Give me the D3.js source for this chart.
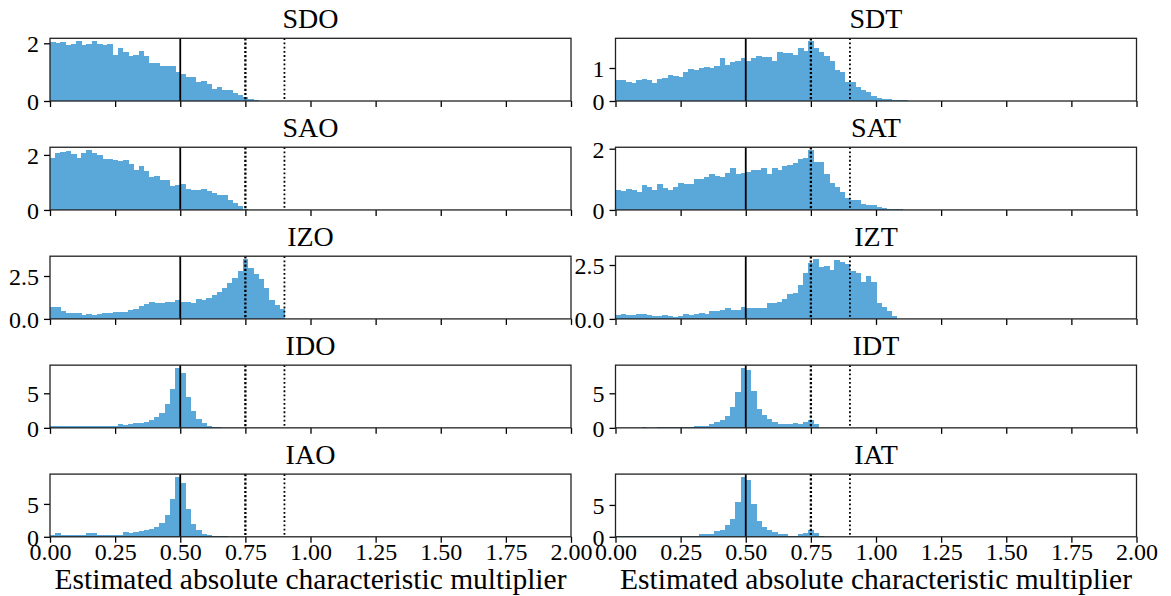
<!DOCTYPE html>
<html>
<head>
<meta charset="utf-8">
<script src="https://cdn.jsdelivr.net/npm/d3@7"></script>
<style>
    body { margin: 0; background: #fff; }
    svg text { font-family: "Liberation Serif", "Times New Roman", serif; fill: #000; }
</style>
</head>
<body>
<div id="chart"></div>
<script>
/* * * * * * * * * * * * * *
 *   data  *
 * * * * * * * * * * * * * */

// histogram bins start at 0 and are 0.02 wide (density values)
const binWidth = 0.02;

const xTickValues = [0, 0.25, 0.5, 0.75, 1.0, 1.25, 1.5, 1.75, 2.0];
const solidLineAt = 0.5;
const dottedLinesAt = [0.75, 0.9];

const panelTitles = ['SDO', 'SDT', 'SAO', 'SAT', 'IZO', 'IZT', 'IDO', 'IDT', 'IAO', 'IAT'];

const yTicksSDO = [0, 2];
const yTicksSDT = [0, 1];
const yTicksSAO = [0, 2];
const yTicksSAT = [0, 2];
const yTicksIZO = [0, 2.5];
const yTicksIZT = [0, 2.5];
const yTicksIDO = [0, 5];
const yTicksIDT = [0, 5];
const yTicksIAO = [0, 5];
const yTicksIAT = [0, 5];

const densSDO = [2.06, 2.02, 2.03, 1.95, 1.98, 2.07, 1.95, 1.98, 2.07, 1.99, 1.95, 1.98, 1.59, 1.82, 1.70, 1.56,
    1.59, 1.72, 1.56, 1.33, 1.31, 1.20, 1.23, 1.23, 1.02, 0.95, 0.84, 0.82, 0.65, 0.70, 0.60, 0.42,
    0.49, 0.39, 0.39, 0.28, 0.21, 0.14, 0.07, 0.035];

const densSAO = [1.88, 2.06, 2.12, 2.15, 2.02, 1.88, 2.06, 2.17, 2.06, 1.99, 1.84, 1.84, 1.80, 1.77, 1.80, 1.66,
    1.44, 1.60, 1.40, 1.18, 1.25, 1.08, 1.10, 0.88, 0.92, 0.96, 0.77, 0.74, 0.74, 0.77, 0.70, 0.63,
    0.55, 0.53, 0.37, 0.27, 0.15, 0.05];

const densIZO = [0.67, 0.71, 0.47, 0.37, 0.37, 0.37, 0.24, 0.30, 0.24, 0.30, 0.37, 0.37, 0.41, 0.41, 0.41, 0.53,
    0.59, 0.77, 0.85, 0.96, 0.91, 0.91, 0.96, 0.96, 1.12, 1.00, 0.96, 0.91, 1.18, 1.08, 1.24, 1.42,
    1.54, 1.79, 2.09, 2.36, 2.78, 3.48, 2.95, 2.60, 2.30, 1.79, 1.12, 0.83, 0.59];

const densIDO = [0.2, 0.2, 0.2, 0.2, 0.2, 0.2, 0.2, 0.2, 0.2, 0.34, 0.2, 0.2, 0.34, 0.49, 0.39, 0.49,
    0.63, 0.63, 0.83, 1.07, 1.50, 2.09, 3.40, 5.58, 8.64, 7.91, 4.42, 2.38, 1.21, 0.63, 0.34, 0.19,
    0.19, 0.05, 0.05];

const densIAO = [0.31, 0.51, 0.31, 0.31, 0.31, 0.31, 0.31, 0.51, 0.51, 0.31, 0.31, 0.31, 0.31, 0.31, 0.66, 0.51,
    0.66, 0.82, 1.02, 1.12, 1.43, 2.04, 3.27, 5.71, 9.08, 8.16, 4.18, 1.89, 0.97, 0.36, 0.20, 0.10,
    0.10, 0.10];

const densSDT = [0.64, 0.64, 0.58, 0.55, 0.64, 0.67, 0.64, 0.55, 0.67, 0.70, 0.80, 0.77, 0.73, 0.89, 0.98, 0.95,
    1.01, 1.04, 1.01, 1.07, 1.29, 1.10, 1.19, 1.22, 1.29, 1.22, 1.29, 1.35, 1.32, 1.32, 1.22, 1.50,
    1.45, 1.47, 1.38, 1.62, 1.53, 1.81, 1.62, 1.50, 1.35, 1.22, 0.95, 0.87, 0.58, 0.58, 0.43, 0.34,
    0.28, 0.15, 0.09, 0.06, 0.06, 0.03, 0.03, 0.03];

const densSAT = [0.66, 0.63, 0.69, 0.66, 0.59, 0.82, 0.76, 0.66, 0.86, 0.73, 0.66, 0.76, 0.89, 0.86, 0.86, 1.02,
    1.02, 1.09, 1.19, 1.12, 1.09, 1.22, 1.38, 1.19, 1.22, 1.25, 1.29, 1.29, 1.38, 1.19, 1.38, 1.29,
    1.42, 1.48, 1.52, 1.68, 1.71, 1.95, 1.58, 1.55, 1.19, 0.89, 0.76, 0.59, 0.40, 0.33, 0.33, 0.20,
    0.16, 0.16, 0.10, 0.07, 0.03, 0.03, 0.03];

const densIZT = [0.19, 0.23, 0.19, 0.19, 0.23, 0.23, 0.19, 0.14, 0.14, 0.19, 0.14, 0.09, 0.14, 0.23, 0.19, 0.23,
    0.28, 0.23, 0.38, 0.38, 0.42, 0.52, 0.42, 0.42, 0.56, 0.52, 0.52, 0.52, 0.52, 0.75, 0.75, 0.80,
    0.94, 1.17, 1.22, 1.55, 2.11, 2.58, 2.77, 2.39, 2.44, 2.25, 2.72, 2.63, 2.53, 2.20, 2.11, 1.73,
    1.97, 1.69, 0.75, 0.56, 0.38, 0.14];

const densIDT = [0, 0, 0, 0, 0, 0.1, 0, 0, 0.1, 0.1, 0.1, 0.1, 0.1, 0.1, 0.19, 0.34,
    0.34, 0.34, 0.49, 0.78, 1.07, 1.65, 2.96, 5.15, 8.64, 8.35, 5.29, 2.67, 1.80, 1.21, 0.78, 0.49,
    0.49, 0.49, 0.63, 0.49, 0.78, 1.07, 0.49, 0.05];

const densIAT = [0.1, 0.1, 0.1, 0.1, 0.1, 0.1, 0.1, 0.1, 0.1, 0.1, 0.1, 0.1, 0.1, 0.1, 0.2, 0.2,
    0.37, 0.37, 0.37, 0.84, 1.0, 1.79, 2.74, 5.42, 9.37, 8.89, 5.1, 2.42, 1.47, 1.0, 0.68, 0.37,
    0.37, 0.2, 0.2, 0.37, 0.53, 1.0, 0.53, 0.2];

const panelDensities = [densSDO, densSDT, densSAO, densSAT, densIZO, densIZT, densIDO, densIDT, densIAO, densIAT];
const panelYTicks = [yTicksSDO, yTicksSDT, yTicksSAO, yTicksSAT, yTicksIZO, yTicksIZT,
    yTicksIDO, yTicksIDT, yTicksIAO, yTicksIAT];

const xLabel = 'Estimated absolute characteristic multiplier';

/* * * * * * * * * * * * * *
 *         HistVis          *
 * * * * * * * * * * * * * */

const barColor = '#5aa7da';
const width = 1171;
const height = 596;

const svg = d3.select('#chart')
    .append('svg')
    .attr('width', width)
    .attr('height', height);

class HistVis {
    constructor(svg, density, title, yTicks, col, row, isBottom) {
        this.svg = svg;
        this.density = density;
        this.title = title;
        this.yTicks = yTicks;
        this.col = col;
        this.row = row;
        this.isBottom = isBottom;

        this.initVis();
    }

    initVis() {
        let vis = this;

        vis.left = [50, 615.5][vis.col];
        vis.top = 38.3 + vis.row * 108.95;
        vis.width = 521;
        vis.height = 62.7;

        vis.g = vis.svg.append('g')
            .attr('transform', `translate(${vis.left}, ${vis.top})`);

        vis.x = d3.scaleLinear().domain([0, 2]).range([0, vis.width]);
        vis.y = d3.scaleLinear()
            .domain([0, d3.max(vis.density) * 1.05])
            .range([vis.height, 0]);

        vis.updateVis();
    }

    updateVis() {
        let vis = this;

        let bins = vis.density.map((d, i) => ({ x0: i * binWidth, x1: (i + 1) * binWidth, value: d }));

        // bars
        vis.g.append('g')
            .attr('shape-rendering', 'crispEdges')
            .selectAll('rect')
            .data(bins.filter(d => d.value > 0))
            .enter()
            .append('rect')
            .attr('x', d => vis.x(d.x0))
            .attr('width', d => vis.x(d.x1) - vis.x(d.x0) + 0.5)
            .attr('y', d => vis.y(d.value))
            .attr('height', d => vis.y(0) - vis.y(d.value))
            .attr('fill', barColor);

        // reference lines
        vis.g.append('line')
            .attr('x1', vis.x(solidLineAt)).attr('x2', vis.x(solidLineAt))
            .attr('y1', 0).attr('y2', vis.height)
            .attr('stroke', '#000')
            .attr('stroke-width', 1.8);

        vis.g.selectAll('.dotted')
            .data(dottedLinesAt)
            .enter()
            .append('line')
            .attr('class', 'dotted')
            .attr('x1', d => vis.x(d)).attr('x2', d => vis.x(d))
            .attr('y1', 0).attr('y2', vis.height)
            .attr('stroke', '#000')
            .attr('stroke-width', (d, i) => i === 0 ? 2.3 : 1.8)
            .attr('stroke-dasharray', (d, i) => i === 0 ? '2.2,2' : '1.8,2.4');

        // axes
        let xAxis = d3.axisBottom(vis.x)
            .tickValues(xTickValues)
            .tickSizeInner(6)
            .tickSizeOuter(0)
            .tickPadding(5)
            .tickFormat(vis.isBottom ? d3.format('.2f') : '');

        let yFormat = vis.yTicks[1] % 1 === 0 ? d3.format('d') : d3.format('.1f');
        let yAxis = d3.axisLeft(vis.y)
            .tickValues(vis.yTicks)
            .tickSizeInner(6)
            .tickSizeOuter(0)
            .tickPadding(5)
            .tickFormat(yFormat);

        let gx = vis.g.append('g')
            .attr('transform', `translate(0, ${vis.height})`)
            .call(xAxis);
        let gy = vis.g.append('g').call(yAxis);

        [gx, gy].forEach(a => {
            a.select('.domain').remove();
            a.selectAll('line').attr('stroke', '#000').attr('stroke-width', 1.3);
            a.selectAll('text')
                .attr('fill', '#000')
                .style('font-size', '24px')
                .style('font-family', '"Liberation Serif", serif');
        });
        gx.selectAll('text').attr('y', 23.5).attr('dy', 0);
        gy.selectAll('text').attr('dy', '0.35em');

        // frame
        vis.g.append('rect')
            .attr('width', vis.width)
            .attr('height', vis.height)
            .attr('fill', 'none')
            .attr('stroke', '#222')
            .attr('stroke-width', 1.3);

        // title
        vis.g.append('text')
            .attr('x', vis.width / 2)
            .attr('y', -10)
            .attr('text-anchor', 'middle')
            .style('font-size', '28px')
            .text(vis.title);

        if (vis.isBottom) {
            vis.g.append('text')
                .attr('x', vis.width / 2)
                .attr('y', vis.height + 52.5)
                .attr('text-anchor', 'middle')
                .style('font-size', '29.5px')
                .text(xLabel);
        }
    }
}

panelTitles.forEach((t, i) => {
    let row = Math.floor(i / 2);
    new HistVis(svg, panelDensities[i], t, panelYTicks[i], i % 2, row, row === 4);
});
</script>
</body>
</html>
